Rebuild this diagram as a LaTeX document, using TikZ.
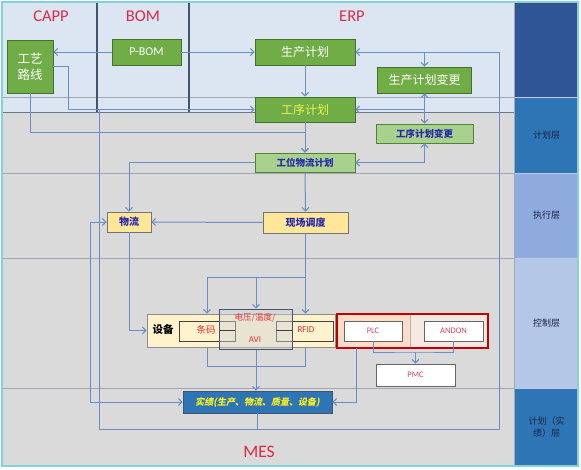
\documentclass[tikz,border=0pt]{standalone}
\usepackage{fontspec}
\setmainfont{Carlito}
\newfontfamily\cjk{Noto Sans CJK SC}
\newfontfamily\cjksl[FakeSlant=0.2]{Noto Sans CJK SC}
\usetikzlibrary{arrows.meta}
\definecolor{lc}{RGB}{104,142,196}
\definecolor{topbg}{RGB}{220,230,242}
\definecolor{midbg}{RGB}{218,218,218}
\definecolor{bandln}{RGB}{160,168,184}
\definecolor{colln}{RGB}{68,84,106}
\definecolor{frame}{RGB}{130,210,220}
\definecolor{titred}{RGB}{222,40,70}
\definecolor{gfill}{RGB}{112,173,71}
\definecolor{gdraw}{RGB}{70,110,45}
\definecolor{lgfill}{RGB}{169,209,142}
\definecolor{lgdraw}{RGB}{84,130,53}
\definecolor{yfill}{RGB}{255,230,153}
\definecolor{cfill}{RGB}{255,242,204}
\definecolor{dbtext}{RGB}{40,40,170}
\definecolor{redtxt}{RGB}{228,50,60}
\definecolor{pinktxt}{RGB}{215,70,95}
\definecolor{redbox}{RGB}{192,0,0}
\definecolor{peach}{RGB}{250,220,200}
\definecolor{sjfill}{RGB}{46,117,182}
\definecolor{colA}{RGB}{47,85,151}
\definecolor{colB}{RGB}{46,117,182}
\definecolor{colC}{RGB}{143,170,220}
\definecolor{colD}{RGB}{180,199,231}
\definecolor{labtxt}{RGB}{25,35,70}
\definecolor{yeltxt}{RGB}{235,245,80}
\begin{document}
\begin{tikzpicture}[x=1pt,y=-1pt,
  conn/.style={draw=lc,line width=1pt},
  arr/.style={conn,-{Straight Barb[length=3.5pt,width=7pt]}},
  arrb/.style={conn,{Straight Barb[length=3.5pt,width=7pt]}-{Straight Barb[length=3.5pt,width=7pt]}},
  gbox/.style={draw=gdraw,fill=gfill,line width=0.8pt,inner sep=0pt,text=white,font=\cjk\fontsize{12}{15}\selectfont},
  lgbox/.style={draw=lgdraw,fill=lgfill,line width=0.8pt,inner sep=0pt,text=dbtext,font=\cjk\bfseries\fontsize{9.5}{11}\selectfont},
  ybox/.style={draw=black!55,fill=yfill,line width=0.8pt,inner sep=0pt,text=dbtext,font=\cjk\bfseries\fontsize{10}{12}\selectfont},
  wbox/.style={draw=black!60,fill=white,line width=0.7pt,inner sep=0pt,text=pinktxt,font=\fontsize{8.5}{10}\selectfont},
  title/.style={text=titred,font=\fontsize{16.5}{19}\selectfont},
  laybl/.style={text=labtxt,font=\cjk\fontsize{9}{12}\selectfont,align=center}
]
\useasboundingbox (0,0) rectangle (581,469);
% backgrounds
\fill[white] (0,0) rectangle (581,469);
\fill[topbg] (3,3) rectangle (515,112);
\fill[midbg] (3,112) rectangle (515,466);
\fill[colA] (515,3) rectangle (578,97);
\fill[colB] (515,97) rectangle (578,173);
\fill[colC] (515,173) rectangle (578,258);
\fill[colD] (515,258) rectangle (578,388);
\fill[colB] (515,388) rectangle (578,466);
\draw[white!70!colA,line width=0.6pt] (515,97)--(578,97) (515,173)--(578,173) (515,258)--(578,258) (515,388)--(578,388);
\draw[bandln,line width=0.5pt] (3,97)--(515,97) (3,173)--(515,173) (3,258)--(515,258) (3,388)--(515,388);
\draw[colln!80,line width=0.9pt] (3,112)--(515,112);
\draw[colln,line width=1.2pt] (97,3)--(97,112) (189,3)--(189,112);
\draw[bandln,line width=0.6pt] (514,3)--(514,466);
\draw[frame,line width=1.6pt] (2,2) rectangle (578,466);
% layer labels
\node[laybl] (l1) at (546.5,135) {计划层};
\node[laybl] (l2) at (546.5,215.5) {执行层};
\node[laybl] (l3) at (546.5,323) {控制层};
\node[laybl] (l4) at (546.5,427) {计划（实\\绩）层};
% titles
\node[title] (capp) at (51,16) {CAPP};
\node[title] (bom) at (143,16) {BOM};
\node[title] (erp) at (352,16) {ERP};
\node[title,font=\fontsize{17.5}{20}\selectfont] (mes) at (259,452) {MES};
% top nodes
\node[gbox,minimum width=46,minimum height=53,align=center,font=\cjk\fontsize{12.5}{16}\selectfont] (gylx) at (30,66.5) {工艺\\路线};
\node[gbox,minimum width=69,minimum height=26,font=\fontsize{12}{14}\selectfont] (pbom) at (146.5,52) {P-BOM};
\node[gbox,minimum width=100,minimum height=26] (scjh) at (305,52) {生产计划};
\node[gbox,minimum width=94,minimum height=26] (scjhbg) at (424.5,80) {生产计划变更};
\node[gbox,minimum width=100,minimum height=25,text=yeltxt] (gxjh) at (305,109.5) {工序计划};
\node[lgbox,minimum width=97,minimum height=19] (gxjhbg) at (424.5,133.5) {工序计划变更};
\node[lgbox,minimum width=100,minimum height=19] (gwwl) at (305,162.5) {工位物流计划};
\node[ybox,minimum width=44,minimum height=20] (wl) at (129,222) {物流};
\node[ybox,minimum width=85,minimum height=21] (xcdd) at (305.5,222.5) {现场调度};
% control layer
\node[draw=black!45,fill=cfill,line width=0.8pt,minimum width=188,minimum height=33,inner sep=0pt] (sb) at (241,330.5) {};
\node[font=\cjk\bfseries\fontsize{10.5}{12}\selectfont,text=black] (sbt) at (163,329.5) {设备};
\node[draw=black!75,fill=cfill,line width=0.7pt,minimum width=56,minimum height=20,inner sep=0pt] (tm) at (207,331) {};
\node[draw=black!75,fill=cfill,line width=0.7pt,minimum width=57,minimum height=20,inner sep=0pt] (rfid) at (304.5,331) {};
\node[text=redtxt,font=\cjk\fontsize{9.5}{11}\selectfont] (tmt) at (206,329.5) {条码};
\node[text=redtxt,font=\fontsize{9}{11}\selectfont] (rfidt) at (306,329.5) {RFID};
\node[draw=colln,line width=1pt,fill=colln!25,fill opacity=0.45,minimum width=73,minimum height=40,inner sep=0pt] (avi) at (256,329) {};
\draw[black!75,line width=0.7pt] (avi.west |- 0,330)--(tm.east |- 0,330) (rfid.west |- 0,330)--(avi.east |- 0,330);
\node[text=redtxt,font=\cjk\fontsize{8.5}{10}\selectfont] (avit1) at (255,318) {电压/温度/};
\node[text=redtxt,font=\fontsize{9}{11}\selectfont] (avit2) at (255,339.5) {AVI};
\node[draw=redbox,fill=peach,line width=1.2pt,minimum width=151,minimum height=34,inner sep=0pt] (grp) at (412.5,331) {};
\fill[black!6,opacity=0.6] (410,315) rectangle (487,347);
\draw[black!30,line width=0.5pt] (410,314.6)--(410,347.4);
\node[wbox,minimum width=58,minimum height=20] (plc) at (373,331) {PLC};
\node[wbox,minimum width=59,minimum height=20] (andon) at (453.5,331) {ANDON};
\node[wbox,minimum width=79,minimum height=22] (pmc) at (415.5,375) {PMC};
\node[draw=colln,fill=sjfill,line width=0.8pt,minimum width=149,minimum height=22,inner sep=0pt,text=yellow!90!white,font=\cjksl\bfseries\fontsize{9}{11}\selectfont] (sj) at (257.5,402) {实绩(生产、物流、质量、设备)};
% coordinates
\coordinate (lpR) at (499,429);
\coordinate (lpL) at (99,429);
\coordinate (j1) at (68,66.5);
\coordinate (j2) at (305,132);
\coordinate (k1) at (305.5,277);
\coordinate (m1) at (207,366);
\coordinate (m2) at (305.5,366);
\coordinate (g1) at (356,348);
\coordinate (pm) at (415.5,352);
% connectors top
\draw[arr] (pbom.west) -- (pbom.west -| gylx.east);
\draw[arr] (pbom.east) -- (scjh.west);
\draw[arr] (gylx.east) -- (j1) |- (gxjh.west);
\draw[arr] (gylx.south) |- (j2) -- (gwwl.north);
\draw[arr] (scjh.south) -- (gxjh.north);
\draw[arr] (gxjh.south) -- (gwwl.north);
\draw[arr] (sj.south) |- (lpR) |- (scjh.east);
\draw[conn] (sj.south) |- (lpL) -- (lpL |- gxjh.west);
\draw[arr] (scjhbg.north |- scjh.east) -- (scjhbg.north);
\draw[arrb] (scjhbg.south) -- (gxjhbg.north);
\draw[arr] (gxjhbg.north |- gxjh.east) -- (gxjh.east);
\draw[arrb] (gwwl.east) -| (gxjhbg.south);
\draw[arr] (gwwl.west) -| (wl.north);
\draw[arr] (gwwl.south) -- (xcdd.north);
\draw[arr] (xcdd.west) -- (wl.east);
\draw[arrb] (wl.west) -- ++(-16,0) |- (sj.west);
\draw[arr] (wl.south) |- (sb.west);
% control connectors
\draw[arr] (xcdd.south) -- (xcdd.south |- sb.north);
\draw[arr] (k1) -| (tm.north |- sb.north);
\draw[arr] (avi.north |- k1) -- (avi.north);
\draw[conn] (tm.south |- sb.south) -- (m1) -- (m2) -- (xcdd.south |- sb.south);
\draw[arr] (avi.south) -- (avi.south |- sj.north);
\draw[arr] (g1) |- (sj.east);
\draw[conn] (plc.south) |- (pm) -| (andon.south);
\draw[arr] (pm) -- (pmc.north);
\end{tikzpicture}
\end{document}
